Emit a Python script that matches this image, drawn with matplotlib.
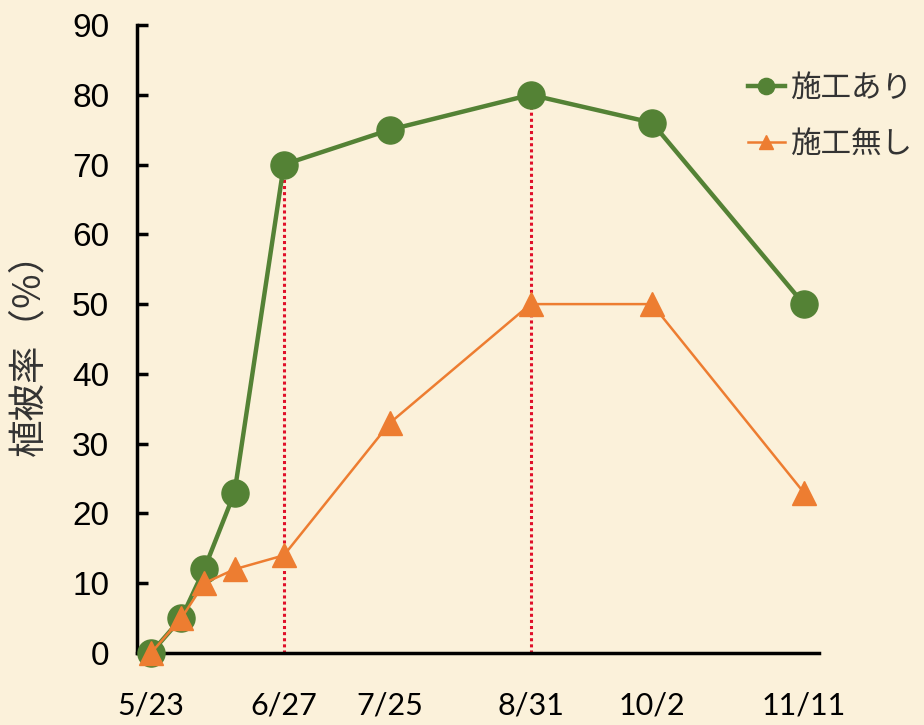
import matplotlib
matplotlib.use("Agg")
import matplotlib.pyplot as plt
from datetime import datetime

# Survey dates (same season) and vegetation cover (%)
dates = ["5/23", "5/31", "6/6", "6/14", "6/27", "7/25", "8/31", "10/2", "11/11"]
treated = [0, 5, 12, 23, 70, 75, 80, 76, 50]
untreated = [0, 5, 10, 12, 14, 33, 50, 50, 23]
tick_dates = ["5/23", "6/27", "7/25", "8/31", "10/2", "11/11"]
marked_dates = ["6/27", "8/31"]
series_names = ["施工あり", "施工無し"]
y_label = "植被率（%）"
y_ticks = list(range(0, 91, 10))

def to_dt(s):
    m, d = s.split("/")
    return datetime(2020, int(m), int(d))

x = [to_dt(s) for s in dates]
xt = [to_dt(s) for s in tick_dates]

bg = "#FBF1DA"
green = "#548235"
orange = "#ED7D31"
red = "#E0102A"
cjk = ["Noto Sans CJK JP", "DejaVu Sans"]

fig = plt.figure(figsize=(9.24, 7.25), dpi=100, facecolor=bg)
ax = fig.add_axes([137 / 924, 1 - 653 / 725, (819 - 137) / 924, (653 - 25) / 725])
ax.set_facecolor(bg)

# dotted guides at the highlighted survey dates
for s in marked_dates:
    d = to_dt(s)
    v = treated[dates.index(s)]
    ax.plot([d, d], [0, v], color=red, lw=2.2, ls=(0, (1, 1)), zorder=1)

l1, = ax.plot(x, treated, color=green, lw=3.2, marker="o", ms=19.5,
              label=series_names[0], zorder=3, clip_on=False)
l2, = ax.plot(x, untreated, color=orange, lw=1.8, marker="^", ms=17,
              label=series_names[1], zorder=4, clip_on=False)

day = to_dt("5/24") - to_dt("5/23")
ax.set_ylim(0, 90)
ax.set_xlim(to_dt("5/23") - day * 3.7, to_dt("11/11") + day * 4)
ax.set_yticks(y_ticks)
ax.set_yticklabels([str(v) for v in y_ticks], fontfamily="Liberation Sans", fontsize=24)
ax.set_xticks(xt)
ax.set_xticklabels(tick_dates, fontfamily="Lato", fontsize=22)
ax.tick_params(axis="y", direction="in", length=8, width=2.5, pad=20)
ax.tick_params(axis="x", length=0, pad=28)

for side in ("top", "right"):
    ax.spines[side].set_visible(False)
for side in ("left", "bottom"):
    ax.spines[side].set_linewidth(2.5)
    ax.spines[side].set_color("black")

ax.set_ylabel(y_label, fontfamily=cjk, fontsize=27, color="#333333")
ax.yaxis.set_label_coords(-0.13, 0.49)

leg = fig.legend(handles=[l1, l2], loc="upper left",
                 bbox_to_anchor=(745 / 924, 1 - 70 / 725), frameon=False,
                 prop={"family": cjk, "size": 22},
                 handlelength=1.2, handletextpad=0.2, labelspacing=0.8,
                 markerscale=0.6, borderaxespad=0, borderpad=0.1)
for t in leg.get_texts():
    t.set_color("#333333")

fig.savefig("out.png", dpi=100, facecolor=bg)
